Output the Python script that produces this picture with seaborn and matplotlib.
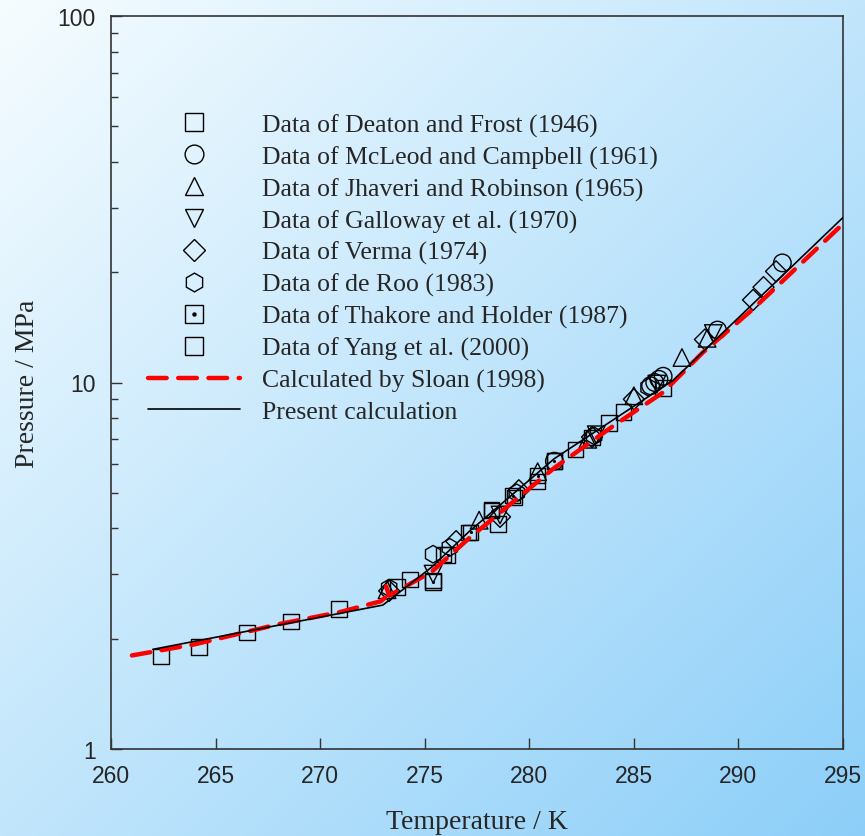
import numpy as np
import pandas as pd
import matplotlib
matplotlib.use("Agg")
import matplotlib.pyplot as plt
from matplotlib.lines import Line2D
from matplotlib.legend_handler import HandlerTuple
from matplotlib.ticker import LogLocator, NullFormatter, FixedLocator, FixedFormatter
import seaborn as sns

# ---------------- data ----------------
deaton_T = [262.4, 264.2, 266.5, 268.6, 270.9, 274.3, 275.4, 277.1, 278.2, 279.3, 281.2, 283.0, 284.5]
deaton_P = [1.79, 1.90, 2.08, 2.23, 2.41, 2.90, 2.88, 3.90, 4.50, 4.86, 6.10, 7.07, 8.30]

mcleod_T = [281.2, 285.8, 286.0, 286.2, 286.4, 289.0, 292.1]
mcleod_P = [6.10, 9.80, 10.0, 10.2, 10.4, 13.9, 21.2]

jhaveri_T = [273.2, 277.6, 280.4, 282.8, 285.0, 287.3, 288.5]
jhaveri_P = [2.72, 4.21, 5.71, 7.00, 9.20, 11.7, 13.2]

galloway_T = [275.4, 278.6, 283.2, 286.1, 288.8]
galloway_P = [3.00, 4.35, 7.20, 9.90, 13.6]

verma_T = [273.3, 276.5, 278.6, 279.5, 283.0, 285.0, 288.4, 290.7, 291.2, 291.8]
verma_P = [2.70, 3.69, 4.30, 5.08, 7.10, 9.00, 13.1, 16.8, 18.2, 20.1]

deroo_T = [273.3, 275.4, 276.2, 279.4, 283.1, 285.7]
deroo_P = [2.75, 3.40, 3.55, 5.00, 7.15, 9.70]

thakore_T = [275.4, 276.1, 277.2, 278.2, 279.2, 280.4, 281.2]
thakore_P = [2.86, 3.38, 3.90, 4.47, 4.91, 5.57, 6.10]

yang_T = [273.7, 275.9, 278.5, 280.4, 282.2, 283.8, 286.4]
yang_P = [2.77, 3.39, 4.11, 5.37, 6.57, 7.76, 9.66]

sloan_T = [261.0, 264.0, 268.0, 270.9, 272.9, 273.15, 273.15, 273.3, 275.35, 277.1, 281.2, 284.0, 286.4, 288.3, 290.7, 295.0]
sloan_P = [1.80, 1.93, 2.19, 2.36, 2.53, 2.60, 2.78, 2.62, 3.05, 3.75, 5.85, 7.60, 9.40, 12.08, 15.87, 27.1]

present_T = [262.0, 273.0, 275.35, 277.1, 281.2, 284.0, 286.9, 295.0]
present_P = [1.87, 2.47, 3.14, 3.91, 6.20, 7.90, 10.16, 28.2]

labels = ["Data of Deaton and Frost (1946)",
          "Data of McLeod and Campbell (1961)",
          "Data of Jhaveri and Robinson (1965)",
          "Data of Galloway et al. (1970)",
          "Data of Verma (1974)",
          "Data of de Roo (1983)",
          "Data of Thakore and Holder (1987)",
          "Data of Yang et al. (2000)",
          "Calculated by Sloan (1998)",
          "Present calculation"]

x_ticks = [260, 265, 270, 275, 280, 285, 290, 295]
y_ticks = [1, 10, 100]
y_tick_labels = ["1", "10", "100"]

# ---------------- figure ----------------
sns.set_style("ticks")
plt.rcParams['font.family'] = ['Liberation Serif', 'DejaVu Serif']

W, H = 865, 837
fig = plt.figure(figsize=(W / 100, H / 100), dpi=100)

# gradient background
bg = fig.add_axes([0, 0, 1, 1], zorder=-10)
xx, yy = np.meshgrid(np.linspace(0, 1, 300), np.linspace(0, 1, 300))
t = np.clip((xx + yy) / 2.0, 0, 1)
c0 = np.array([0.965, 0.99, 1.0])
c1 = np.array([0.55, 0.81, 0.975])
img = c0[None, None, :] * (1 - t[..., None]) + c1[None, None, :] * t[..., None]
bg.imshow(img, aspect='auto', extent=[0, 1, 1, 0])
bg.set_axis_off()
fig.patch.set_alpha(0)

ax = fig.add_axes([111 / W, 1 - 750 / H, (843 - 111) / W, (750 - 17) / H])
ax.set_facecolor('none')

ms = 125
edge = 'black'
lw_m = 1.0

def scat(T, P, marker, s=ms):
    df = pd.DataFrame({"T": T, "P": P})
    sns.scatterplot(data=df, x="T", y="P", ax=ax, marker=marker, s=s,
                    facecolors='none', edgecolor=edge, linewidth=lw_m, zorder=3)

scat(deaton_T, deaton_P, 's')
scat(mcleod_T, mcleod_P, 'o', 160)
scat(jhaveri_T, jhaveri_P, '^', 160)
scat(galloway_T, galloway_P, 'v', 160)
scat(verma_T, verma_P, 'D', 115)
scat(deroo_T, deroo_P, 'h', 160)
scat(thakore_T, thakore_P, 's')
sns.scatterplot(data=pd.DataFrame({"T": thakore_T, "P": thakore_P}), x="T", y="P", ax=ax,
                marker='o', s=5, color='black', linewidth=0, zorder=3)
scat(yang_T, yang_P, 's')

DASH = [4.2, 2.6]
sns.lineplot(data=pd.DataFrame({"T": sloan_T, "P": sloan_P}), x="T", y="P", ax=ax,
             sort=False, estimator=None, color='#ff0000', linewidth=3.2, zorder=4)
red = ax.lines[-1]
red.set_dashes(DASH)
red.set_dash_capstyle('round')
sns.lineplot(data=pd.DataFrame({"T": present_T, "P": present_P}), x="T", y="P", ax=ax,
             sort=False, estimator=None, color='black', linewidth=1.2, zorder=5)

ax.set_yscale('log')
ax.set_xlim(260, 295)
ax.set_ylim(1, 100)
ax.xaxis.set_major_locator(FixedLocator(x_ticks))
ax.yaxis.set_major_locator(FixedLocator(y_ticks))
ax.yaxis.set_major_formatter(FixedFormatter(y_tick_labels))
ax.yaxis.set_minor_locator(LogLocator(base=10, subs=np.arange(2, 10)))
ax.yaxis.set_minor_formatter(NullFormatter())
ax.tick_params(axis='both', which='major', direction='in', length=8, width=1,
               labelsize=16.5, top=False, right=False, color='#333333', pad=11)
ax.tick_params(axis='y', which='minor', direction='in', length=5, width=1, color='#333333')
ax.tick_params(axis='x', which='minor', bottom=False)
for lab in ax.get_xticklabels() + ax.get_yticklabels():
    lab.set_fontfamily('Liberation Sans')
for sp in ax.spines.values():
    sp.set_visible(True)
    sp.set_color('#333333')
    sp.set_linewidth(1.2)

ax.set_xlabel("Temperature / K", fontsize=20, va='center')
ax.set_ylabel("Pressure / MPa", fontsize=20, va='center')
ax.xaxis.set_label_coords((477 - 111) / 732, (750 - 823) / 733)
ax.yaxis.set_label_coords((28 - 111) / 732, (750 - 384) / 733)

# legend
mk = dict(linestyle='none', markerfacecolor='none', markeredgecolor='black',
          markeredgewidth=1.0, markersize=12.5)
handles = [
    Line2D([], [], marker='s', **mk),
    Line2D([], [], marker='o', **{**mk, 'markersize': 13.5}),
    Line2D([], [], marker='^', **{**mk, 'markersize': 13.5}),
    Line2D([], [], marker='v', **{**mk, 'markersize': 13.5}),
    Line2D([], [], marker='D', **{**mk, 'markersize': 11.5}),
    Line2D([], [], marker='h', **{**mk, 'markersize': 13.5}),
    (Line2D([], [], marker='s', **mk),
     Line2D([], [], marker='o', linestyle='none', color='black', markersize=2.2)),
    Line2D([], [], marker='s', **mk),
    Line2D([], [], color='#ff0000', linewidth=3.2, dashes=DASH, dash_capstyle='round'),
    Line2D([], [], color='black', linewidth=1.2),
]
leg = ax.legend(handles, labels, loc='upper left',
                bbox_to_anchor=((148 - 111) / 732, (750 - 114.5) / 733),
                frameon=False, fontsize=18.5, handlelength=3.58, handletextpad=0.86,
                labelspacing=0.33, borderaxespad=0, borderpad=0,
                handler_map={tuple: HandlerTuple(ndivide=1)})

fig.savefig("out.png", dpi=100)
